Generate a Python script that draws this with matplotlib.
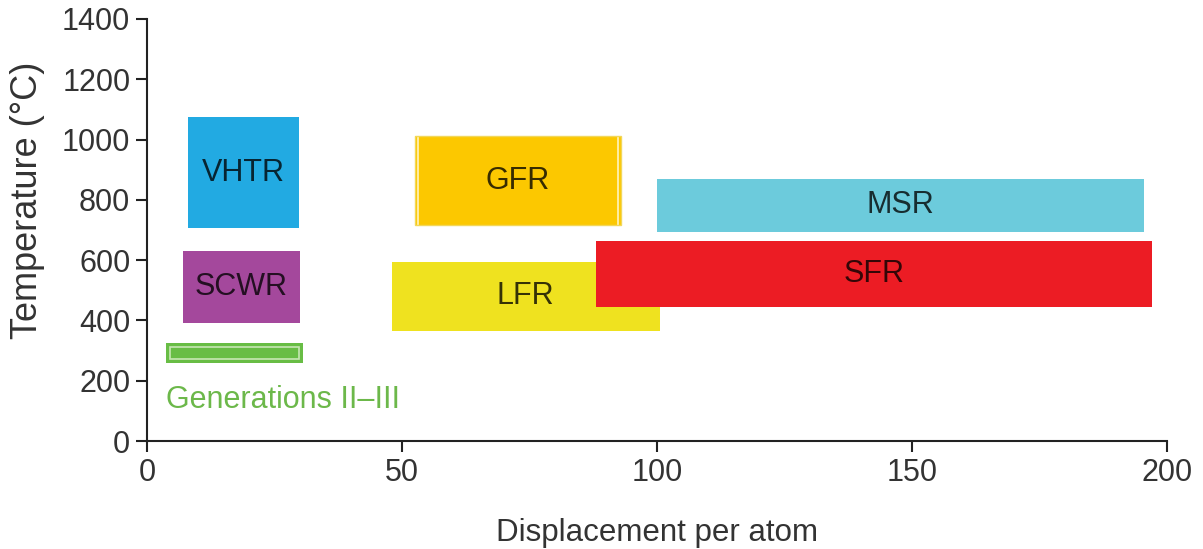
import matplotlib.pyplot as plt
from matplotlib.patches import Rectangle

plt.rcParams['font.family'] = ['Liberation Sans', 'DejaVu Sans']

# reactor windows: displacement per atom (x) and temperature in degC (y)
reactors = ["VHTR", "SCWR", "GFR", "LFR", "MSR", "SFR"]
dpa_min = [8, 7, 52.5, 48, 100, 88]
dpa_max = [29.8, 30, 93, 100.5, 195.5, 197]
temp_min = [705, 392, 715, 365, 695, 443]
temp_max = [1075, 630, 1012, 595, 870, 665]
colors = ["#22aae2", "#a4489c", "#fcc800", "#efe21f", "#6ccbdc", "#ec1c24"]

# generations II-III bar
gen_dpa = [3.8, 30.6]
gen_temp = [260, 325]
gen_label = "Generations II\u2013III"

text_col = "#333333"

fig = plt.figure(figsize=(12.03, 5.49), dpi=100)
ax = fig.add_axes([0.1222, 0.1967, 0.848, 0.7687])

for i, name in enumerate(reactors):
    ax.bar(dpa_min[i], temp_max[i] - temp_min[i], width=dpa_max[i] - dpa_min[i],
           bottom=temp_min[i], align="edge", color=colors[i], linewidth=0, zorder=2 + i)
    ax.text((dpa_min[i] + dpa_max[i]) / 2, (temp_min[i] + temp_max[i]) / 2, name,
            ha="center", va="center", fontsize=22, color="black", alpha=0.78, zorder=10)

# thin light edges on the GFR box
ax.add_patch(Rectangle((dpa_min[2], temp_min[2]), dpa_max[2] - dpa_min[2],
                       temp_max[2] - temp_min[2], fill=False,
                       edgecolor="#f2d75a", linewidth=1.0, zorder=5))
for xv in [dpa_min[2] + 0.6, dpa_max[2] - 0.6]:
    ax.plot([xv, xv], [temp_min[2] + 6, temp_max[2] - 6], color="#fff4c0",
            linewidth=1.2, zorder=5)

ax.bar(gen_dpa[0], gen_temp[1] - gen_temp[0], width=gen_dpa[1] - gen_dpa[0],
       bottom=gen_temp[0], align="edge", color="#68bd45", linewidth=0, zorder=2)
ax.add_patch(Rectangle((gen_dpa[0] + 0.8, gen_temp[0] + 12), gen_dpa[1] - gen_dpa[0] - 1.6,
                       gen_temp[1] - gen_temp[0] - 24, fill=False,
                       edgecolor="#c8e6b4", linewidth=1.2, zorder=3))
ax.text(gen_dpa[0], 135, gen_label, ha="left", va="center", fontsize=22,
        color="#6cb84a", zorder=10)

ax.set_xlim(0, 200)
ax.set_ylim(0, 1400)
ax.set_xticks([0, 50, 100, 150, 200])
ax.set_yticks(range(0, 1401, 200))
ax.spines["top"].set_visible(False)
ax.spines["right"].set_visible(False)
for s in ["left", "bottom"]:
    ax.spines[s].set_linewidth(1.5)
    ax.spines[s].set_color("#222222")
ax.tick_params(direction="out", length=8, width=1.5, color="#222222",
               labelsize=22, labelcolor=text_col, pad=4)
ax.set_xlabel("Displacement per atom", fontsize=22.5, color=text_col, labelpad=22)
ax.set_ylabel("Temperature (\u00b0C)", fontsize=26, color=text_col)
ax.yaxis.set_label_coords(-0.100, 0.57)

fig.savefig("out.png", dpi=100)
